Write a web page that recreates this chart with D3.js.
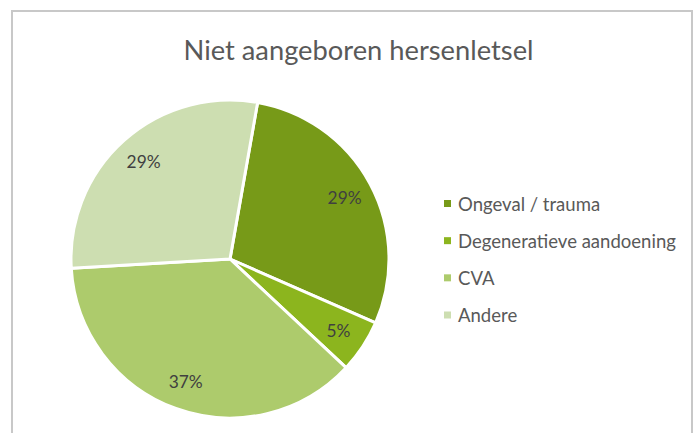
<!DOCTYPE html>
<html>
<head>
<meta charset="utf-8">
<script src="https://cdn.jsdelivr.net/npm/d3@7"></script>
<style>
  html, body { margin: 0; padding: 0; background: #fff; }
  svg { display: block; }
  text { font-family: Lato, "Open Sans", sans-serif; }
</style>
</head>
<body>
<svg id="chart" width="697" height="433"></svg>
<script>
// Data (share of the pie, percent)
const categories = ["Ongeval / trauma", "Degeneratieve aandoening", "CVA", "Andere"];
const values = [28.8, 5.4, 37.1, 28.7];
const colors = ["#779a18", "#8cb51e", "#adcb6c", "#cddeb1"];
const title = "Niet aangeboren hersenletsel";

const svg = d3.select("#chart");

// frame
svg.append("rect").attr("x", 12).attr("y", 11).attr("width", 680).attr("height", 520)
  .attr("fill", "#fff").attr("stroke", "#c8c8c8").attr("stroke-width", 2);

function fitText(sel, targetW) {
  const node = sel.node();
  const fs = parseFloat(sel.attr("font-size"));
  const w = node.getComputedTextLength();
  sel.attr("font-size", (fs * targetW / w).toFixed(2));
}

// title
const t = svg.append("text").attr("x", 358.5).attr("y", 60)
  .attr("text-anchor", "middle").attr("fill", "#595959")
  .attr("font-size", 26).text(title);
fitText(t, 350);

// pie
const cx = 230, cy = 259, r = 159;
const total = d3.sum(values);
const startA = 10 * Math.PI / 180;
const pie = d3.pie().sort(null).startAngle(startA).endAngle(startA + 2 * Math.PI);
const arcs = pie(values);
const arc = d3.arc().innerRadius(0).outerRadius(r);
const labelArc = d3.arc().innerRadius(130).outerRadius(130);

const g = svg.append("g").attr("transform", `translate(${cx},${cy})`);
g.selectAll("path").data(arcs).join("path")
  .attr("d", arc)
  .attr("fill", (d, i) => colors[i])
  .attr("stroke", "#fff").attr("stroke-width", 3).attr("stroke-linejoin", "round");

const fmt = v => Math.round(v / total * 100) + "%";
const labels = g.selectAll("text.lbl").data(arcs).join("text")
  .attr("class", "lbl")
  .attr("transform", d => `translate(${labelArc.centroid(d)})`)
  .attr("text-anchor", "middle").attr("dominant-baseline", "central")
  .attr("fill", "#404040").attr("font-size", 18)
  .text(d => fmt(d.value));
{
  const w = labels.filter((d, i) => i === 0).node().getComputedTextLength();
  labels.attr("font-size", (18 * 34 / w).toFixed(2));
}

// legend
const lg = svg.append("g");
const rowY = d3.scalePoint().domain(categories).range([203.5, 315]);
const items = lg.selectAll("g").data(categories).join("g")
  .attr("transform", d => `translate(444,${rowY(d)})`);
items.append("rect").attr("x", 0).attr("y", -3.5).attr("width", 7).attr("height", 7)
  .attr("fill", (d, i) => colors[i]);
const ltxt = items.append("text").attr("x", 14).attr("y", 0)
  .attr("dominant-baseline", "central").attr("fill", "#595959")
  .attr("font-size", 18).text(d => d);
{
  const w = ltxt.filter((d, i) => i === 1).node().getComputedTextLength();
  ltxt.attr("font-size", (18 * 218 / w).toFixed(2));
}
</script>
</body>
</html>
